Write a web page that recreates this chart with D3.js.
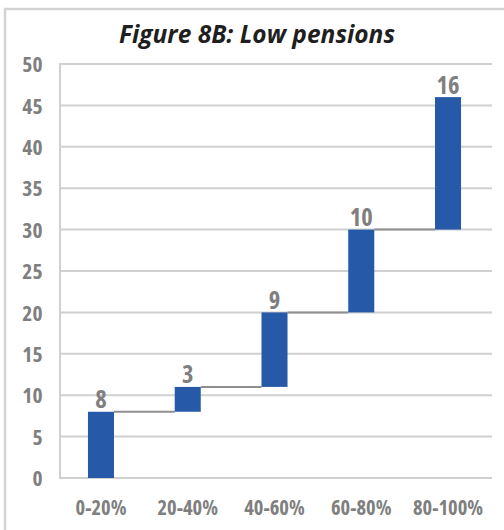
<!DOCTYPE html>
<html>
<head>
<meta charset="utf-8">
<script src="https://cdn.jsdelivr.net/npm/d3@7/dist/d3.min.js"></script>
<style>
  html, body { margin: 0; padding: 0; background: #fff; }
  svg { display: block; }
  text { font-family: "Open Sans", "Noto Sans", sans-serif; font-weight: 700; }
</style>
</head>
<body>
<script>
const categories = ["0-20%", "20-40%", "40-60%", "60-80%", "80-100%"];
const values = [8, 3, 9, 10, 16];
const yTicks = [0, 5, 10, 15, 20, 25, 30, 35, 40, 45, 50];
const title = "Figure 8B: Low pensions";

const W = 504, H = 530;
const svg = d3.select("body").append("svg").attr("width", W).attr("height", H);

// outer frame (top & left visible)
svg.append("rect").attr("x", 5).attr("y", 9).attr("width", W + 10).attr("height", H + 10)
  .attr("fill", "none").attr("stroke", "#d3d3d3").attr("stroke-width", 2.5);

const x = d3.scaleBand().domain(categories).range([57.6, 491.4]);
const y = d3.scaleLinear().domain([0, 50]).range([478, 64]);

// data: cumulative steps
let cum = 0;
const bars = values.map((v, i) => { const s = cum; cum += v; return { cat: categories[i], v, start: s, end: cum }; });

// gridlines
svg.append("g").selectAll("line").data(yTicks).join("line")
  .attr("x1", 60).attr("x2", 492)
  .attr("y1", d => y(d)).attr("y2", d => y(d))
  .attr("stroke", "#d0d0d0").attr("stroke-width", 2);

// left axis line
svg.append("line").attr("x1", 60).attr("x2", 60).attr("y1", y(50) - 1).attr("y2", y(0) + 1)
  .attr("stroke", "#d0d0d0").attr("stroke-width", 2);

// y tick labels via axis
const yAxis = svg.append("g").attr("transform", "translate(42.5,0)")
  .call(d3.axisLeft(y).tickValues(yTicks).tickSize(0).tickPadding(0));
yAxis.select(".domain").remove();
yAxis.selectAll("text").attr("fill", "#7f7f7f").style("font-size", "21.5px")
  .style("font-family", "'Open Sans', sans-serif").style("font-weight", 700)
  .style("font-stretch", "semi-condensed").attr("dy", "0.36em");

// x labels
const xAxis = svg.append("g").attr("transform", "translate(0,515)")
  .call(d3.axisBottom(x).tickSize(0).tickPadding(0));
xAxis.select(".domain").remove();
xAxis.selectAll("text").attr("fill", "#7f7f7f").attr("dy", 0).style("font-size", "20.5px")
  .style("font-family", "'Open Sans', sans-serif").style("font-weight", 700)
  .style("font-stretch", "semi-condensed");

const bw = x.bandwidth() * 0.3;
const cx = d => x(d) + x.bandwidth() / 2;

// connectors
svg.append("g").selectAll("line").data(bars.slice(0, -1)).join("line")
  .attr("x1", (d) => cx(d.cat) + bw / 2)
  .attr("x2", (d, i) => cx(bars[i + 1].cat) - bw / 2)
  .attr("y1", d => y(d.end)).attr("y2", d => y(d.end))
  .attr("stroke", "#8f8f8f").attr("stroke-width", 2);

// bars
svg.append("g").selectAll("rect").data(bars).join("rect")
  .attr("x", d => cx(d.cat) - bw / 2).attr("width", bw)
  .attr("y", d => y(d.end)).attr("height", d => y(d.start) - y(d.end))
  .attr("fill", "#265AA8");

// data labels
svg.append("g").selectAll("text").data(bars).join("text")
  .attr("x", d => cx(d.cat)).attr("y", d => y(d.end) - 3.5)
  .attr("text-anchor", "middle").attr("fill", "#7f7f7f")
  .style("font-size", "24.5px").style("font-stretch", "semi-condensed")
  .text(d => d.v);

// title
svg.append("text").attr("x", 257).attr("y", 43).attr("text-anchor", "middle")
  .attr("fill", "#1f1f1f").style("font-size", "24.5px").style("font-style", "italic")
  .text(title);
</script>
</body>
</html>
